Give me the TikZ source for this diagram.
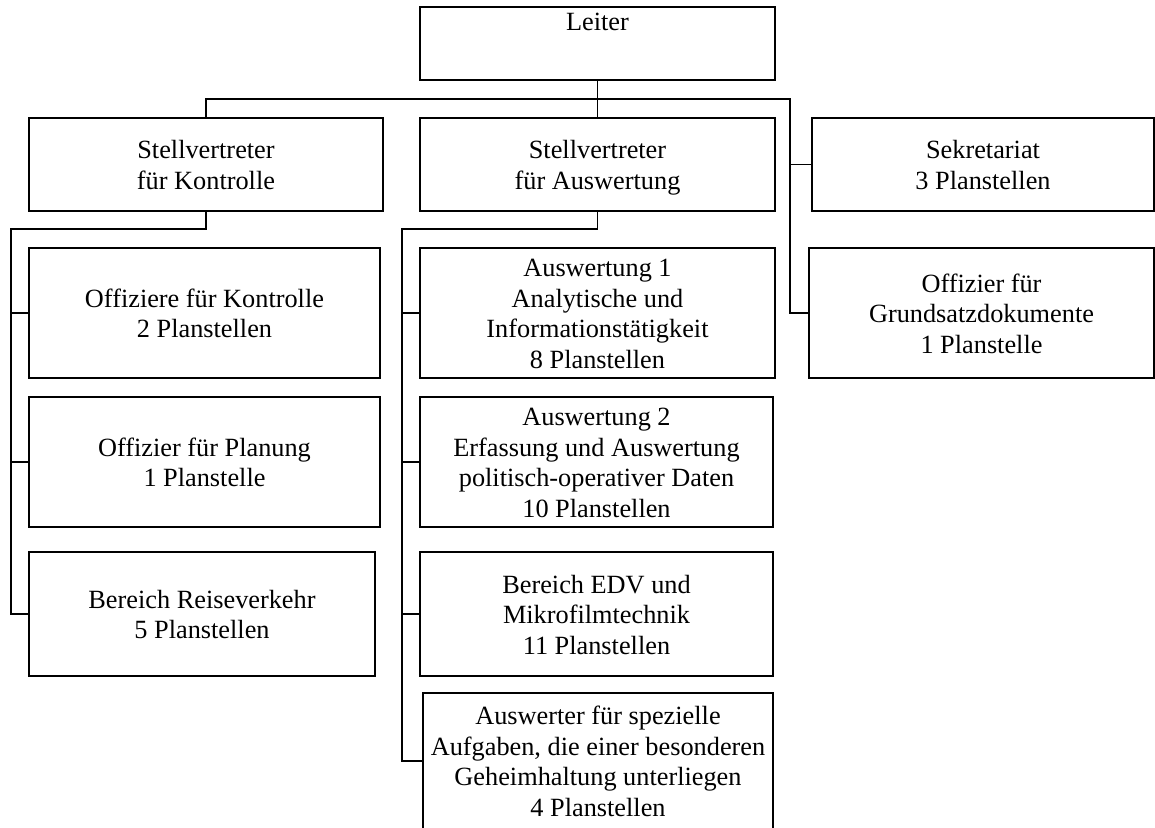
\documentclass[tikz,border=0pt]{standalone}
\usepackage{fontspec}
\setmainfont{Liberation Serif}
% invisible rules that fix the height of the first line and the depth of the last one
\newcommand{\topprop}{\rule{0pt}{26pt}}
\newcommand{\botprop}{\rule[-7pt]{0pt}{7pt}}
\begin{document}
\begin{tikzpicture}[x=1pt,y=-1pt,
  box/.style={draw, line width=1.4pt, align=center, inner sep=0pt,
    font=\fontsize{26.3}{30.5}\selectfont,
    execute at end node=\botprop},
  link/.style={line width=1.4pt}]
\useasboundingbox (0,0) rectangle (1155,827);

% head of the unit
\node[draw, line width=1.4pt, inner sep=0pt, font=\fontsize{26.3}{30.5}\selectfont,
      text width=355pt, align=center, text height=23.7pt, text depth=49.3pt] (leiter) at (597.5,43.5) {Leiter};

% deputies and staff
\node[box, minimum width=354pt, minimum height=93pt] (stvk) at (206,164.5) {\topprop Stellvertreter\\für Kontrolle};
\node[box, minimum width=355pt, minimum height=93pt] (stva) at (597.5,164.5) {\topprop Stellvertreter\\für Auswertung};
\node[box, minimum width=342pt, minimum height=93pt] (sek) at (983,164.5) {\topprop Sekretariat\\3 Planstellen};
\node[box, minimum width=345pt, minimum height=130pt] (grund) at (981.5,313) {\topprop Offizier für\\Grundsatzdokumente\\1 Planstelle};

% control branch
\node[box, minimum width=351pt, minimum height=130pt] (offk) at (204.5,313) {\topprop Offiziere für Kontrolle\\2 Planstellen};
\node[box, minimum width=351pt, minimum height=130pt] (plan) at (204.5,462) {\topprop Offizier für Planung\\1 Planstelle};
\node[box, minimum width=346pt, minimum height=124pt] (reise) at (202,614) {\topprop Bereich Reiseverkehr\\5 Planstellen};

% evaluation branch
\node[box, minimum width=355pt, minimum height=130pt] (aw1) at (597.5,313) {\topprop Auswertung 1\\Analytische und\\Informationstätigkeit\\8 Planstellen};
\node[box, minimum width=353pt, minimum height=130pt] (aw2) at (596.5,462) {\topprop Auswertung 2\\Erfassung und Auswertung\\politisch-operativer Daten\\10 Planstellen};
\node[box, minimum width=353pt, minimum height=124pt] (edv) at (596.5,614) {\topprop Bereich EDV und\\Mikrofilmtechnik\\11 Planstellen};
\node[box, minimum width=350pt, minimum height=136pt] (spez) at (598,761) {\topprop Auswerter für spezielle\\Aufgaben, die einer besonderen\\Geheimhaltung unterliegen\\4 Planstellen};

% bus points
\coordinate (topbus) at (790,99);
\coordinate (kbus) at (11,229);
\coordinate (abus) at (402,229);

% top level connectors
\draw[link] (leiter.south) -- (stva.north);
\draw[link] (stvk.north) |- (topbus) |- (grund.west);
\draw[link] (topbus |- sek.west) -- (sek.west);

% control branch connectors
\draw[link] (stvk.south) |- (kbus) |- (reise.west);
\draw[link] (kbus |- offk.west) -- (offk.west);
\draw[link] (kbus |- plan.west) -- (plan.west);

% evaluation branch connectors
\draw[link] (stva.south) |- (abus) |- (spez.west);
\draw[link] (abus |- aw1.west) -- (aw1.west);
\draw[link] (abus |- aw2.west) -- (aw2.west);
\draw[link] (abus |- edv.west) -- (edv.west);
\end{tikzpicture}
\end{document}
